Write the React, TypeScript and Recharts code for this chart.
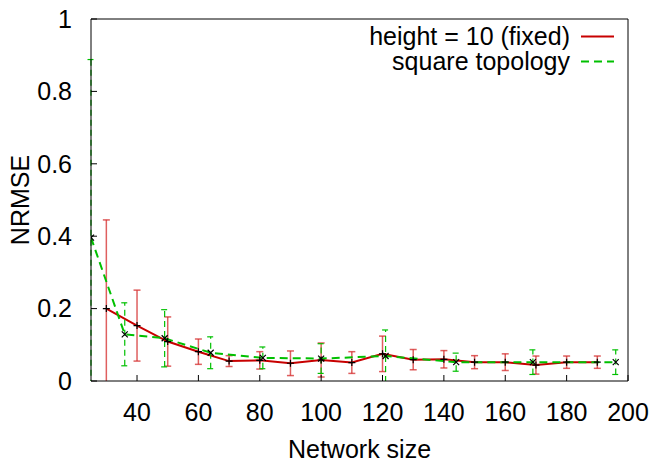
import React from 'react';
import { LineChart, Line, XAxis, YAxis, ErrorBar, Legend } from 'recharts';

// Grid with fixed height 10: network sizes 30..190
const fixedSizes = [30, 40, 50, 60, 70, 80, 90, 100, 110, 120, 130, 140, 150, 160, 170, 180, 190];
const fixedNrmse = [0.2, 0.153, 0.109, 0.081, 0.055, 0.057, 0.049, 0.058, 0.051, 0.075, 0.059, 0.06, 0.052, 0.052, 0.044, 0.052, 0.052];
const fixedErr = [0.245, 0.098, 0.068, 0.035, 0.015, 0.024, 0.034, 0.047, 0.03, 0.049, 0.028, 0.024, 0.018, 0.023, 0.025, 0.017, 0.017];

// Square grids: n x n nodes
const squareSizes = [25, 36, 49, 64, 81, 100, 121, 144, 169, 196];
const squareNrmse = [0.396, 0.129, 0.118, 0.078, 0.064, 0.062, 0.069, 0.052, 0.052, 0.052];
const squareErr = [0.492, 0.087, 0.079, 0.044, 0.03, 0.041, 0.072, 0.025, 0.034, 0.034];

const xTicks = [40, 60, 80, 100, 120, 140, 160, 180, 200];
const yTicks = [0, 0.2, 0.4, 0.6, 0.8, 1];

const seriesNames = ['height = 10 (fixed)', 'square topology'];
const seriesColors = ['#c80000', '#00c000'];
const seriesDash = ['', '8 5'];

const fixedData = fixedSizes.map((x, i) => ({ x, y: fixedNrmse[i], err: fixedErr[i] }));
const squareData = squareSizes.map((x, i) => ({ x, y: squareNrmse[i], err: squareErr[i] }));

// chart box and plot-area margins
const W = 654;
const H = 464;
const M = { top: 19, right: 26, bottom: 83, left: 91 };

const FONT = '"Liberation Sans", Arial, sans-serif';
const FS = 25;
const tickStyle = { fontSize: FS, fill: '#000', fontFamily: FONT };

const PlusDot = (props: any) => {
  const { cx, cy, index } = props;
  if (cx == null || cy == null) return <g key={`p${index}`} />;
  return (
    <path key={`p${index}`} d={`M${cx - 3.5},${cy}h7M${cx},${cy - 3.5}v7`} stroke="#000" strokeWidth={1.2} fill="none" />
  );
};

const CrossDot = (props: any) => {
  const { cx, cy, index } = props;
  if (cx == null || cy == null) return <g key={`c${index}`} />;
  return (
    <path key={`c${index}`} d={`M${cx - 3},${cy - 3}l6,6M${cx - 3},${cy + 3}l6,-6`} stroke="#000" strokeWidth={1.2} fill="none" />
  );
};

const renderLegend = (props: any) => {
  const payload = props.payload || [];
  return (
    <div style={{ fontFamily: FONT, fontSize: FS, color: '#000' }}>
      {payload.map((entry: any, i: number) => (
        <div key={i} style={{ display: 'flex', justifyContent: 'flex-end', alignItems: 'center', height: 25 }}>
          <span style={{ display: 'inline-block', height: 25, lineHeight: '25px', whiteSpace: 'nowrap', overflow: 'visible' }}>
            {entry.value}
          </span>
          <svg width={44} height={25} style={{ display: 'block' }}>
            <line x1={11} x2={44} y1={12.5} y2={12.5} stroke={seriesColors[i]} strokeWidth={2} strokeDasharray={seriesDash[i] || undefined} />
          </svg>
        </div>
      ))}
    </div>
  );
};

const YLabel = (props: any) => {
  const vb = props.viewBox || {};
  const x = 20;
  const y = vb.y + vb.height / 2;
  return (
    <text x={x} y={y} transform={`rotate(-90, ${x}, ${y})`} textAnchor="middle" dominantBaseline="central"
      fontSize={FS} fontFamily={FONT} fill="#000">NRMSE</text>
  );
};

export default function App() {
  return (
    <div style={{ position: 'absolute', left: 0, top: 0, fontFamily: FONT, background: '#fff' }}>
      {/* clip region for the error bars: plot area, with a little slack at the sides */}
      <svg width={0} height={0} style={{ position: 'absolute' }}>
        <defs>
          <clipPath id="plot-area-clip">
            <rect x={M.left - 6} y={M.top} width={W - M.left - M.right + 12} height={H - M.top - M.bottom} />
          </clipPath>
        </defs>
      </svg>
      <LineChart width={W} height={H} data={fixedData} margin={{ top: M.top - 1, right: M.right - 1, left: 0, bottom: 0 }}>
        <XAxis type="number" dataKey="x" domain={[25, 200]} ticks={xTicks} allowDataOverflow
          height={M.bottom} tickSize={-6} tickMargin={28} axisLine={{ stroke: '#000' }} tickLine={{ stroke: '#000' }} tick={tickStyle}
          label={{ value: 'Network size', position: 'insideBottom', offset: 6, fontSize: FS, fill: '#000', fontFamily: FONT }} />
        <XAxis xAxisId="top" orientation="top" type="number" domain={[25, 200]} ticks={xTicks} allowDataOverflow
          height={1} tickSize={-6} axisLine={{ stroke: '#000' }} tickLine={{ stroke: '#000' }} tick={false} />
        <YAxis type="number" domain={[0, 1]} ticks={yTicks} allowDataOverflow width={M.left} tickSize={-6} tickMargin={25}
          axisLine={{ stroke: '#000' }} tickLine={{ stroke: '#000' }} tick={tickStyle} tickFormatter={(v: number) => String(v)}
          label={<YLabel />} />
        <YAxis yAxisId="right" orientation="right" type="number" domain={[0, 1]} ticks={yTicks} allowDataOverflow width={1}
          tickSize={-6} axisLine={{ stroke: '#000' }} tickLine={{ stroke: '#000' }} tick={false} />
        <Legend layout="vertical" align="center" verticalAlign="middle" content={renderLegend}
          wrapperStyle={{ top: 24, right: 40, left: 'auto', width: 'auto' }} />
        <Line name={seriesNames[0]} data={fixedData} dataKey="y" stroke={seriesColors[0]} strokeWidth={2}
          dot={PlusDot} activeDot={false} isAnimationActive={false} type="linear">
          <ErrorBar dataKey="err" direction="y" width={3.5} stroke="#d42a2a" strokeOpacity={0.75} strokeWidth={1.5}
            clipPath="url(#plot-area-clip)" />
        </Line>
        <Line name={seriesNames[1]} data={squareData} dataKey="y" stroke={seriesColors[1]} strokeWidth={2}
          strokeDasharray={seriesDash[1]} dot={CrossDot} activeDot={false} isAnimationActive={false} type="linear">
          <ErrorBar dataKey="err" direction="y" width={3.5} stroke="#00c000" strokeWidth={1.2} strokeDasharray="6 4"
            clipPath="url(#plot-area-clip)" />
        </Line>
      </LineChart>
    </div>
  );
}
